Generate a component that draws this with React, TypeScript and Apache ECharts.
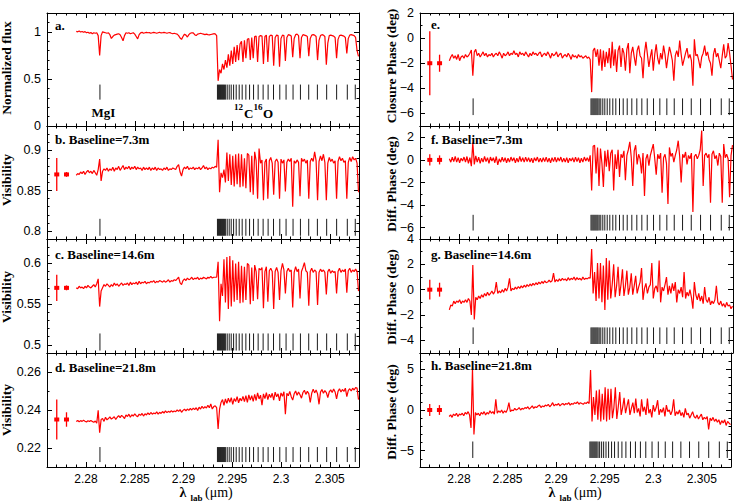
import React, { useEffect, useRef } from "react";
import * as echarts from "echarts";

// ---------------- data ----------------
// sampling grid of the spectra (wavelength in micron)
const lambdaStart = 2.279;
const lambdaStep = 0.00015;
const xMin = 2.276;
const xMax = 2.308;

const fluxValues = [
  1.005, 1.0, 1.008, 0.998, 1.004, 0.995, 1.002, 0.99, 0.996, 0.985,
  0.992, 0.98, 0.99, 0.985, 0.99, 0.96, 0.75, 0.96, 1.0, 0.995,
  0.99, 0.985, 0.99, 0.97, 0.93, 0.95, 0.965, 0.97, 0.975, 0.98,
  0.97, 0.94, 0.905, 0.96, 0.99, 0.985, 0.99, 0.98, 0.985, 0.99,
  0.975, 0.95, 0.925, 0.97, 0.99, 0.995, 0.985, 0.99, 0.995, 0.99,
  0.992, 0.985, 0.99, 0.995, 0.99, 0.985, 0.99, 0.995, 0.988, 0.99,
  0.995, 0.99, 0.985, 0.99, 0.992, 0.985, 0.98, 0.985, 0.98, 0.975,
  0.96, 0.935, 0.92, 0.95, 0.975, 0.965, 0.945, 0.97, 0.985, 0.99,
  0.99, 0.97, 0.96, 0.975, 0.98, 0.985, 0.98, 0.975, 0.97, 0.975,
  0.97, 0.968, 0.972, 0.975, 0.98, 0.978, 0.96, 0.48, 0.60, 0.56,
  0.66, 0.60, 0.70, 0.62, 0.76, 0.64, 0.80, 0.66, 0.84, 0.68,
  0.86, 0.70, 0.87, 0.90, 0.68, 0.91, 0.72, 0.92, 0.93, 0.70,
  0.94, 0.72, 0.95, 0.955, 0.68, 0.95, 0.96, 0.955, 0.66, 0.95,
  0.965, 0.68, 0.95, 0.965, 0.96, 0.64, 0.94, 0.965, 0.96, 0.63,
  0.93, 0.965, 0.96, 0.69, 0.94, 0.97, 0.965, 0.955, 0.73, 0.93,
  0.97, 0.975, 0.96, 0.72, 0.94, 0.97, 0.965, 0.96, 0.95, 0.74,
  0.93, 0.965, 0.97, 0.965, 0.95, 0.70, 0.91, 0.96, 0.97, 0.965,
  0.95, 0.65, 0.88, 0.96, 0.965, 0.96, 0.955, 0.94, 0.72, 0.92,
  0.96, 0.965, 0.96, 0.955, 0.94, 0.77, 0.93, 0.965, 0.97, 0.965,
  0.96, 0.94, 0.80, 0.74,
];

const vis73Values = [
  0.869, 0.871, 0.870, 0.873, 0.871, 0.874, 0.870, 0.873, 0.875, 0.872,
  0.874, 0.871, 0.875, 0.872, 0.869, 0.876, 0.889, 0.862, 0.874, 0.877,
  0.875, 0.878, 0.874, 0.877, 0.875, 0.879, 0.874, 0.878, 0.876, 0.880,
  0.875, 0.878, 0.881, 0.876, 0.879, 0.877, 0.880, 0.876, 0.879, 0.877,
  0.880, 0.876, 0.879, 0.877, 0.878, 0.875, 0.879, 0.876, 0.878, 0.876,
  0.879, 0.875, 0.878, 0.876, 0.879, 0.875, 0.878, 0.876, 0.877, 0.875,
  0.878, 0.876, 0.879, 0.875, 0.877, 0.876, 0.878, 0.877, 0.876, 0.880,
  0.882, 0.873, 0.868, 0.876, 0.879, 0.877, 0.880, 0.876, 0.878, 0.877,
  0.879, 0.876, 0.878, 0.877, 0.879, 0.876, 0.878, 0.881, 0.877, 0.879,
  0.876, 0.878, 0.877, 0.879, 0.878, 0.880, 0.879, 0.913, 0.848, 0.872,
  0.866, 0.876, 0.860, 0.897, 0.862, 0.895, 0.857, 0.893, 0.855, 0.895,
  0.858, 0.896, 0.854, 0.895, 0.855, 0.890, 0.853, 0.896, 0.894, 0.848,
  0.893, 0.845, 0.898, 0.887, 0.840, 0.902, 0.884, 0.888, 0.838, 0.885,
  0.889, 0.840, 0.887, 0.891, 0.884, 0.845, 0.886, 0.889, 0.885, 0.840,
  0.889, 0.884, 0.888, 0.849, 0.885, 0.889, 0.886, 0.890, 0.830, 0.887,
  0.884, 0.888, 0.885, 0.843, 0.890, 0.886, 0.889, 0.884, 0.888, 0.840,
  0.886, 0.890, 0.886, 0.898, 0.887, 0.838, 0.886, 0.893, 0.887, 0.895,
  0.885, 0.838, 0.884, 0.891, 0.886, 0.889, 0.884, 0.887, 0.840, 0.886,
  0.892, 0.887, 0.890, 0.885, 0.887, 0.840, 0.885, 0.891, 0.886, 0.892,
  0.888, 0.890, 0.884, 0.848,
];

const vis146Values = [
  0.570, 0.569, 0.572, 0.570, 0.571, 0.569, 0.572, 0.570, 0.573, 0.571,
  0.570, 0.572, 0.574, 0.571, 0.575, 0.581, 0.547, 0.566, 0.570, 0.574,
  0.572, 0.575, 0.573, 0.571, 0.574, 0.572, 0.576, 0.573, 0.575, 0.572,
  0.574, 0.576, 0.573, 0.575, 0.574, 0.576, 0.573, 0.577, 0.574, 0.576,
  0.575, 0.577, 0.574, 0.578, 0.575, 0.577, 0.576, 0.578, 0.575, 0.577,
  0.576, 0.578, 0.577, 0.579, 0.576, 0.578, 0.577, 0.579, 0.578, 0.577,
  0.579, 0.577, 0.578, 0.580, 0.577, 0.579, 0.578, 0.580, 0.579, 0.581,
  0.583, 0.576, 0.574, 0.579, 0.581, 0.579, 0.582, 0.580, 0.581, 0.583,
  0.580, 0.582, 0.581, 0.583, 0.580, 0.582, 0.581, 0.583, 0.582, 0.581,
  0.583, 0.582, 0.584, 0.582, 0.583, 0.583, 0.583, 0.602, 0.529, 0.575,
  0.560, 0.605, 0.552, 0.608, 0.544, 0.609, 0.547, 0.604, 0.553, 0.600,
  0.555, 0.602, 0.551, 0.597, 0.552, 0.596, 0.555, 0.600, 0.598, 0.550,
  0.595, 0.554, 0.598, 0.590, 0.556, 0.594, 0.592, 0.595, 0.545, 0.590,
  0.596, 0.553, 0.591, 0.594, 0.590, 0.544, 0.590, 0.595, 0.589, 0.555,
  0.591, 0.600, 0.592, 0.563, 0.590, 0.594, 0.590, 0.592, 0.546, 0.589,
  0.596, 0.590, 0.593, 0.557, 0.590, 0.595, 0.601, 0.591, 0.589, 0.548,
  0.590, 0.594, 0.589, 0.592, 0.590, 0.549, 0.589, 0.593, 0.590, 0.592,
  0.589, 0.562, 0.590, 0.593, 0.588, 0.591, 0.589, 0.590, 0.563, 0.590,
  0.594, 0.589, 0.592, 0.590, 0.593, 0.564, 0.591, 0.594, 0.589, 0.592,
  0.590, 0.593, 0.590, 0.566,
];

const vis218Values = [
  0.2340, 0.2345, 0.2338, 0.2344, 0.2340, 0.2346, 0.2341, 0.2337, 0.2343, 0.2339,
  0.2345, 0.2340, 0.2335, 0.2342, 0.2330, 0.2398, 0.2281, 0.2350, 0.2355, 0.2340,
  0.2362, 0.2348, 0.2355, 0.2364, 0.2352, 0.2358, 0.2365, 0.2350, 0.2362, 0.2370,
  0.2360, 0.2372, 0.2365, 0.2355, 0.2374, 0.2366, 0.2378, 0.2362, 0.2375, 0.2368,
  0.2380, 0.2370, 0.2365, 0.2378, 0.2372, 0.2382, 0.2368, 0.2380, 0.2374, 0.2385,
  0.2376, 0.2387, 0.2378, 0.2384, 0.2380, 0.2390, 0.2378, 0.2388, 0.2382, 0.2392,
  0.2384, 0.2395, 0.2386, 0.2393, 0.2388, 0.2397, 0.2389, 0.2395, 0.2391, 0.2400,
  0.2393, 0.2402, 0.2388, 0.2398, 0.2404, 0.2396, 0.2405, 0.2398, 0.2408, 0.2400,
  0.2410, 0.2402, 0.2412, 0.2398, 0.2415, 0.2405, 0.2420, 0.2408, 0.2418, 0.2410,
  0.2425, 0.2412, 0.2432, 0.2405, 0.2418, 0.2422, 0.2412, 0.2300, 0.2405, 0.2440,
  0.2455, 0.2425, 0.2458, 0.2435, 0.2462, 0.2440, 0.2465, 0.2430, 0.2460, 0.2445,
  0.2470, 0.2438, 0.2462, 0.2448, 0.2472, 0.2444, 0.2476, 0.2440, 0.2480, 0.2452,
  0.2475, 0.2445, 0.2482, 0.2450, 0.2490, 0.2458, 0.2478, 0.2425, 0.2485, 0.2460,
  0.2492, 0.2455, 0.2483, 0.2466, 0.2488, 0.2452, 0.2494, 0.2470, 0.2485, 0.2448,
  0.2490, 0.2472, 0.2496, 0.2378, 0.2488, 0.2475, 0.2498, 0.2470, 0.2452, 0.2485,
  0.2500, 0.2478, 0.2495, 0.2480, 0.2462, 0.2492, 0.2504, 0.2482, 0.2498, 0.2486,
  0.2440, 0.2488, 0.2510, 0.2490, 0.2505, 0.2485, 0.2430, 0.2494, 0.2508, 0.2488,
  0.2502, 0.2492, 0.2465, 0.2496, 0.2506, 0.2492, 0.2510, 0.2495, 0.2458, 0.2498,
  0.2512, 0.2495, 0.2508, 0.2498, 0.2515, 0.2470, 0.2502, 0.2512, 0.2500, 0.2515,
  0.2505, 0.2518, 0.2515, 0.2455,
];

const closurePhaseValues = [
  -1.8, -1.5, -1.3, -1.6, -1.4, -1.7, -1.3, -1.8, -1.5, -1.4,
  -1.6, -1.3, -1.5, -1.4, -1.2, -0.95, -3.0, -1.1, -0.9, -1.4,
  -1.2, -1.5, -1.3, -1.1, -1.4, -1.2, -1.5, -1.3, -1.4, -1.2,
  -1.5, -1.3, -1.2, -1.4, -1.1, -1.3, -1.6, -1.2, -1.4, -1.3,
  -1.1, -1.4, -1.2, -1.3, -1.0, -1.3, -1.2, -1.5, -1.1, -1.3,
  -1.2, -1.4, -1.1, -1.3, -1.5, -1.2, -1.4, -1.1, -1.3, -1.2,
  -1.4, -1.2, -1.1, -1.5, -1.3, -1.2, -1.4, -1.1, -1.3, -1.6,
  -1.2, -1.4, -1.3, -1.1, -1.5, -1.3, -1.2, -1.6, -1.4, -1.3,
  -1.5, -1.2, -1.4, -1.7, -1.3, -1.5, -1.4, -1.6, -1.3, -1.5,
  -1.4, -1.6, -1.5, -1.4, -1.6, -1.5, -1.7, -4.3, -1.0, -0.8,
  -1.5, -0.9, -2.2, -0.9, -2.6, -1.0, -2.3, -1.1, -2.0, -0.8,
  -2.4, -0.3, -2.2, -0.9, -2.7, -1.0, -0.6, -2.3, -0.8, -1.2,
  -2.6, -0.9, -0.4, -2.8, -1.2, -0.7, -1.5, -2.2, -1.0, -0.6,
  -1.4, -1.6, -3.2, -1.2, -0.3, -1.3, -2.3, -1.5, -0.9, -2.6,
  -1.3, -0.5, -1.6, -2.1, -1.2, -1.7, -0.6, -1.3, -2.4, -1.5,
  -0.7, -1.2, -1.8, -3.4, -1.4, -1.0, -1.5, -0.2, -1.3, -2.2,
  -1.7, -1.2, -0.8, -1.6, -1.3, -1.8, -3.8, -0.1, -1.4, -1.3,
  -1.8, -2.4, -1.5, -1.2, -0.6, -1.4, -1.1, -1.7, -2.0, -3.0,
  -1.3, -0.8, -1.5, -1.2, -1.8, -2.4, -1.4, -0.5, -1.6, -1.4,
  -0.4, -1.2, -2.2, -3.3,
];

const diffPhase73Values = [
  0.1, -0.2, 0.25, -0.15, 0.3, -0.2, 0.2, -0.25, 0.15, -0.1,
  0.25, -0.2, 0.3, -0.3, 0.2, -0.55, 1.55, -0.4, 0.35, -0.2,
  0.25, -0.3, 0.15, -0.2, 0.3, -0.15, 0.2, -0.3, 0.25, -0.1,
  0.2, -0.25, 0.3, -0.45, 0.1, -0.2, 0.25, -0.15, 0.2, -0.25,
  0.15, -0.2, 0.25, -0.1, 0.2, -0.25, 0.15, -0.2, 0.3, -0.15,
  0.2, -0.2, 0.25, -0.15, 0.2, -0.2, 0.15, -0.25, 0.2, -0.1,
  0.25, -0.2, 0.15, -0.2, 0.2, -0.15, 0.25, -0.2, 0.15, -0.25,
  0.2, -0.15, 0.25, -0.2, 0.2, -0.1, 0.25, -0.2, 0.15, -0.2,
  0.2, -0.25, 0.15, -0.1, 0.2, -0.2, 0.25, -0.15, 0.2, -0.25,
  0.15, -0.2, 0.25, -0.1, 0.2, -0.15, 0.4, -2.7, 1.2, 1.3,
  -1.2, 1.1, -2.3, 1.0, -0.3, -2.4, 0.8, -0.6, 0.9, -1.0,
  0.6, 0.9, -2.7, 0.5, -0.8, 0.9, -1.5, 0.5, 0.2, 0.8,
  -1.8, 0.4, 0.9, 1.6, 0.2, -2.3, 0.8, 1.3, -0.4, 0.5,
  0.1, -1.2, 0.6, -3.2, 0.1, 0.5, -0.5, 0.4, 0.9, 1.4,
  0.1, -1.3, 0.5, 0.1, 0.6, -2.9, 0.2, 0.5, -0.3, -3.9,
  1.1, 0.3, 0.6, -0.2, 0.4, 0.9, 1.7, 0.3, -2.0, 0.5,
  0.2, 0.7, -0.4, 0.4, 0.1, 0.6, -4.6, 0.3, 0.5, 0.1,
  0.4, 0.9, 2.6, -2.3, 0.4, 0.6, 0.2, 0.5, -3.8, 0.5,
  0.8, 0.1, 0.4, -0.5, 0.6, 0.3, -3.8, 1.4, 0.2, 0.5,
  0.1, -3.3, 0.4, 1.3,
];

const diffPhase146Values = [
  -1.6, -1.2, -1.3, -0.9, -1.1, -0.9, -1.0, -0.8, -1.1, -0.9,
  -1.0, -0.8, -1.0, -0.7, -0.9, -2.0, 1.95, -2.35, -0.6, -0.8,
  -0.5, -0.7, -0.4, -0.6, -0.3, -0.5, -0.2, -0.45, -0.3, -0.1,
  -0.35, -0.15, 0.6, -0.3, -0.1, -0.25, 0.0, -0.2, 0.1, -0.1,
  0.2, 0.9, -0.1, 0.1, 0.0, 0.2, 0.05, 0.25, 0.1, 0.3,
  0.15, 0.35, 0.2, 0.4, 0.25, 0.45, 0.3, 0.5, 0.35, 0.55,
  0.4, 0.6, 0.45, 0.65, 0.5, 0.7, 0.55, 0.6, 0.75, 0.6,
  0.7, 1.3, 0.6, 0.8, 0.65, 0.85, 0.7, 0.9, 0.75, 0.85,
  0.7, 0.95, 0.75, 0.9, 0.8, 1.0, 0.75, 0.95, 0.8, 0.9,
  0.75, 1.0, 0.8, 0.9, 0.85, 0.95, 0.9, 3.2, -0.3, 1.4,
  -0.9, 2.1, -0.7, 2.1, -1.0, 1.9, -1.6, 2.5, -0.8, 2.3,
  -0.7, 0.4, 2.0, -0.6, 0.3, 1.8, -0.5, 0.4, 1.6, -0.5,
  0.3, 1.5, -0.4, 0.2, 1.3, -0.4, 0.3, 1.1, -0.3, 0.2,
  0.6, 1.7, -0.8, 0.1, 0.5, -0.3, 0.2, 0.4, 2.1, -0.7,
  0.1, 0.3, -0.2, 2.3, -1.0, 0.2, -0.1, 0.4, 1.0, -0.4,
  0.3, -0.3, 0.5, -0.1, 0.6, -1.0, 0.0, -0.3, 0.2, -0.6,
  1.4, -0.7, -0.2, -0.5, 0.0, -0.6, -1.5, 0.6, -0.4, -0.8,
  -0.3, -0.9, -0.5, -1.1, 0.2, -0.8, -1.0, -0.6, -1.2, -0.9,
  -1.1, -0.8, 0.3, -1.0, -1.2, -0.9, -1.3, -1.1, -1.4, -1.0,
  -1.3, -1.2, -1.5, -1.3,
];

const diffPhase218Values = [
  -0.8, -0.6, -0.9, -0.5, -0.7, -0.4, -0.8, -0.5, -0.6, -0.4,
  -0.7, -0.3, -0.5, -0.2, -0.6, -2.2, 5.1, -3.0, -0.3, -0.6,
  -0.4, -0.7, -0.3, -0.5, -0.2, -0.6, -0.3, -0.5, -0.1, -0.4,
  -0.2, -0.5, 1.3, -0.4, -0.1, -0.3, 0.0, -0.4, -0.1, -0.3,
  0.1, 0.9, -0.2, 0.0, -0.1, 0.2, 0.0, 0.1, 0.3, 0.0,
  0.2, 0.1, 0.3, 0.2, 0.4, 0.1, 0.3, 0.5, 0.2, 0.4,
  0.3, 0.5, 0.6, 0.3, 0.5, 0.4, 0.6, 0.5, 0.7, 0.4,
  0.6, 0.9, 0.5, 0.7, 0.6, 0.8, 0.5, 0.7, 0.8, 0.6,
  0.8, 0.7, 0.9, 0.6, 0.8, 0.7, 0.9, 0.8, 1.0, 0.7,
  0.9, 0.8, 0.7, 0.9, 0.8, 1.0, 0.8, 4.9, -1.4, 1.6,
  -0.6, 2.4, -1.2, 2.5, -1.4, 2.0, -1.2, 2.8, -1.4, 2.6,
  -1.2, 2.6, -1.0, 0.3, 2.8, -1.1, 0.4, 2.2, -0.6, 0.3,
  1.5, -0.4, 0.5, 1.3, -0.6, 0.2, 0.9, -0.4, 1.4, -0.3,
  0.2, -0.8, 1.3, -0.2, 0.4, -0.6, 1.4, -0.4, 0.1, -0.9,
  0.6, -0.2, 0.3, 1.2, -0.6, 0.1, -0.3, 0.3, -0.8, 0.6,
  -0.2, 0.0, -0.6, -0.1, 1.3, -0.7, -0.2, -0.5, 0.0, -0.7,
  -0.3, -0.9, 0.2, -0.6, -0.4, -1.0, -0.6, -0.2, -0.8, -1.0,
  -0.6, -1.1, -0.8, -0.5, -1.2, -0.9, -1.1, -0.8, -2.4, -1.0,
  -1.3, -0.9, -1.4, -1.1, -1.5, -1.2, -1.8, -1.3, -1.6, -1.2,
  -1.9, -1.4, -1.6, -1.8,
];

// representative error bars: wavelength positions and [centre, half-length]
const errLambda = [2.277, 2.278];
const fluxErr: number[][] = [];
const vis73Err = [[0.87, 0.0205], [0.87, 0.003]];
const vis146Err = [[0.57, 0.016], [0.57, 0.003]];
const vis218Err = [[0.235, 0.0105], [0.235, 0.0038]];
const closurePhaseErr = [[-2.0, 2.55], [-2.0, 0.68]];
const diffPhase73Err = [[0.0, 0.5], [0.0, 0.4]];
const diffPhase146Err = [[0.0, 0.78], [0.0, 0.55]];
const diffPhase218Err = [[0.0, 0.75], [0.0, 0.6]];

// line identifications (micron)
const mgLines = [2.28143];
const coLines = [
  2.293482, 2.293584, 2.293687, 2.293789, 2.293891, 2.293993, 2.294096, 2.294198,
  2.294321, 2.294484, 2.294689, 2.294894, 2.295139, 2.295405, 2.295712, 2.296019,
  2.296397, 2.296776, 2.297185, 2.297656, 2.298167, 2.298679, 2.299231, 2.299875,
  2.30052, 2.301236, 2.301993, 2.302842, 2.303732, 2.304683, 2.305706, 2.3068,
  2.307618,
];

// vertical extent of the line-identification ticks in each panel (data units)
const fluxMarks = [0.28, 0.44];
const vis73Marks = [0.794, 0.815];
const vis146Marks = [0.493, 0.514];
const vis218Marks = [0.2126, 0.2205];
const closurePhaseMarks = [-6.13, -4.8];
const diffPhase73Marks = [-6.25, -4.86];
const diffPhase146Marks = [-4.29, -2.98];
const diffPhase218Marks = [-5.89, -3.87];

const panelLabels = [
  "a.", "b. Baseline=7.3m", "c. Baseline=14.6m", "d. Baseline=21.8m",
  "e.", "f. Baseline=7.3m", "g. Baseline=14.6m", "h. Baseline=21.8m",
];
const yTitles = [
  "Normalized flux", "Visibility", "Visibility", "Visibility",
  "Closure Phase (deg)", "Diff. Phase (deg)", "Diff. Phase (deg)", "Diff. Phase (deg)",
];

// ---------------- layout / config ----------------
const PANELS = [
  { values: fluxValues, err: fluxErr, marks: fluxMarks, yMin: 0, yMax: 1.2, step: 0.5, split: 2, minor: 5, col: 0, row: 0 },
  { values: vis73Values, err: vis73Err, marks: vis73Marks, yMin: 0.79, yMax: 0.93, step: 0.05, split: 3, minor: 5, col: 0, row: 1 },
  { values: vis146Values, err: vis146Err, marks: vis146Marks, yMin: 0.49, yMax: 0.63, step: 0.05, split: 3, minor: 5, col: 0, row: 2 },
  { values: vis218Values, err: vis218Err, marks: vis218Marks, yMin: 0.21, yMax: 0.27, step: 0.02, split: 3, minor: 2, col: 0, row: 3 },
  { values: closurePhaseValues, err: closurePhaseErr, marks: closurePhaseMarks, yMin: -7, yMax: 2, step: 2, split: 5, minor: 2, col: 1, row: 0 },
  { values: diffPhase73Values, err: diffPhase73Err, marks: diffPhase73Marks, yMin: -7, yMax: 3, step: 2, split: 5, minor: 2, col: 1, row: 1 },
  { values: diffPhase146Values, err: diffPhase146Err, marks: diffPhase146Marks, yMin: -5, yMax: 4, step: 2, split: 5, minor: 2, col: 1, row: 2 },
  { values: diffPhase218Values, err: diffPhase218Err, marks: diffPhase218Marks, yMin: -7, yMax: 7, step: 5, split: 3, minor: 5, col: 1, row: 3 },
];

const GRID_LEFT = [47, 420];
const GRID_WIDTH = [312, 313];
const GRID_TOP = [13, 126, 239, 353];
const GRID_HEIGHT = [113, 113, 114, 114];
const TITLE_X = [6.5, 391];
const TITLE_Y = [68, 180, 297, 410, 66, 184, 297, 412];
const LABEL_POS = [
  [55, 25], [55, 139], [55, 254], [55, 367],
  [431, 24], [431, 139], [431, 254], [431, 365],
];

const SERIF = "'Liberation Serif', 'Times New Roman', serif";
const SANS = "'Liberation Sans', Arial, sans-serif";
const TICK_FONT = 12.5;

function labelFormatter(step: number) {
  return (v: number) => {
    const r = v / step;
    if (Math.abs(r - Math.round(r)) > 1e-6) return "";
    const n = parseFloat(v.toFixed(4));
    if (n < 0) return "\u2212" + String(-n);
    return String(Math.abs(n) < 1e-12 ? 0 : n);
  };
}

function txt(text: string, x: number, y: number, size: number, align = "left", rot = 0, weight = "bold", family = SERIF) {
  return {
    type: "text",
    x,
    y,
    z: 200,
    rotation: rot,
    silent: true,
    style: {
      text,
      fill: "#000",
      font: `${weight} ${size}px ${family}`,
      textAlign: align,
      align,
      textVerticalAlign: "middle",
      verticalAlign: "middle",
    },
  };
}

const markRender = (params: any, api: any) => {
  const x = api.value(0);
  const p1 = api.coord([x, api.value(1)]);
  const p2 = api.coord([x, api.value(2)]);
  return {
    type: "line",
    shape: { x1: p1[0], y1: p1[1], x2: p2[0], y2: p2[1] },
    style: { stroke: "#1a1a1a", lineWidth: 1 },
  };
};

const errRender = (params: any, api: any) => {
  const x = api.value(0);
  const pc = api.coord([x, api.value(1)]);
  const pl = api.coord([x, api.value(2)]);
  const ph = api.coord([x, api.value(3)]);
  return {
    type: "group",
    children: [
      { type: "line", shape: { x1: pl[0], y1: pl[1], x2: ph[0], y2: ph[1] }, style: { stroke: "#ff0000", lineWidth: 1.3 } },
      { type: "rect", shape: { x: pc[0] - 2.5, y: pc[1] - 2, width: 5, height: 4 }, style: { fill: "#ff0000" } },
    ],
  };
};

export default function App() {
  const ref = useRef<HTMLDivElement>(null);
  useEffect(() => {
    if (!ref.current) return;
    const chart = echarts.init(ref.current, null, { renderer: "svg" });
    const grid: any[] = [];
    const xAxis: any[] = [];
    const yAxis: any[] = [];
    const series: any[] = [];
    const allLines = [...mgLines, ...coLines];

    PANELS.forEach((p, k) => {
      grid.push({
        left: GRID_LEFT[p.col],
        top: GRID_TOP[p.row],
        width: GRID_WIDTH[p.col],
        height: GRID_HEIGHT[p.row],
      });
      const axisLine = { show: true, onZero: false, lineStyle: { color: "#000", width: 1 } };
      const tick = { show: true, inside: true, length: 5, lineStyle: { color: "#000", width: 1 } };
      const xBase = {
        type: "value",
        gridIndex: k,
        min: xMin,
        max: xMax,
        splitNumber: 6,
        axisLine,
        axisTick: tick,
        minorTick: { show: true, splitNumber: 5, length: 2.5, lineStyle: { color: "#000", width: 1 } },
        splitLine: { show: false },
        minorSplitLine: { show: false },
      };
      xAxis.push({
        ...xBase,
        position: "bottom",
        axisLabel: {
          show: p.row === 3,
          formatter: labelFormatter(0.005),
          fontSize: 12,
          fontFamily: SANS,
          color: "#000",
          margin: 6,
        },
      });
      xAxis.push({ ...xBase, position: "top", axisLabel: { show: false } });
      const yBase = {
        type: "value",
        gridIndex: k,
        min: p.yMin,
        max: p.yMax,
        splitNumber: p.split,
        axisLine,
        axisTick: tick,
        minorTick: { show: true, splitNumber: p.minor, length: 2.5, lineStyle: { color: "#000", width: 1 } },
        splitLine: { show: false },
        minorSplitLine: { show: false },
      };
      yAxis.push({
        ...yBase,
        position: "left",
        axisLabel: {
          formatter: labelFormatter(p.step),
          fontSize: TICK_FONT,
          fontFamily: SANS,
          color: "#000",
          margin: 6,
          showMinLabel: true,
          showMaxLabel: true,
          hideOverlap: false,
        },
      });
      yAxis.push({ ...yBase, position: "right", axisLabel: { show: false } });

      const xi = 2 * k;
      const yi = 2 * k;
      series.push({
        type: "line",
        xAxisIndex: xi,
        yAxisIndex: yi,
        data: p.values.map((v, i) => [lambdaStart + i * lambdaStep, v]),
        showSymbol: false,
        symbol: "none",
        lineStyle: { color: "#ff0000", width: 1.2 },
        silent: true,
        z: 3,
      });
      series.push({
        type: "custom",
        xAxisIndex: xi,
        yAxisIndex: yi,
        data: allLines.map((l) => [l, p.marks[0], p.marks[1]]),
        encode: { x: 0, y: [1, 2] },
        renderItem: markRender,
        silent: true,
        z: 2,
      });
      if (p.err.length) {
        series.push({
          type: "custom",
          xAxisIndex: xi,
          yAxisIndex: yi,
          data: p.err.map((e, j) => [errLambda[j], e[0], e[0] - e[1], e[0] + e[1]]),
          encode: { x: 0, y: [1, 2, 3] },
          renderItem: errRender,
          silent: true,
          z: 3,
        });
      }
    });

    const graphic: any[] = [];
    PANELS.forEach((p, k) => {
      graphic.push(txt(panelLabels[k], LABEL_POS[k][0], LABEL_POS[k][1], 13));
      graphic.push(txt(yTitles[k], TITLE_X[p.col], TITLE_Y[k], 13.5, "center", Math.PI / 2));
    });
    // line identifications in panel a
    graphic.push(txt("MgI", 103.5, 112, 13, "center"));
    graphic.push(txt("12", 234, 107, 9));
    graphic.push(txt("C", 244, 113, 13));
    graphic.push(txt("16", 253.5, 107, 9));
    graphic.push(txt("O", 263, 113, 13));
    // x-axis titles
    [[183, 190.5, 205], [552, 559.5, 574]].forEach(([lx, sx, ux]) => {
      graphic.push(txt("\u03bb", lx, 492, 14, "center"));
      graphic.push(txt("lab", sx, 497.5, 9));
      graphic.push(txt("(\u03bcm)", ux, 492, 14, "left", 0, "normal"));
    });

    chart.setOption({
      animation: false,
      backgroundColor: "#fff",
      grid,
      xAxis,
      yAxis,
      series,
      graphic,
    });
    return () => chart.dispose();
  }, []);

  return (
    <div
      ref={ref}
      style={{ position: "absolute", left: 0, top: 0, width: 734, height: 502, background: "#fff" }}
    />
  );
}
